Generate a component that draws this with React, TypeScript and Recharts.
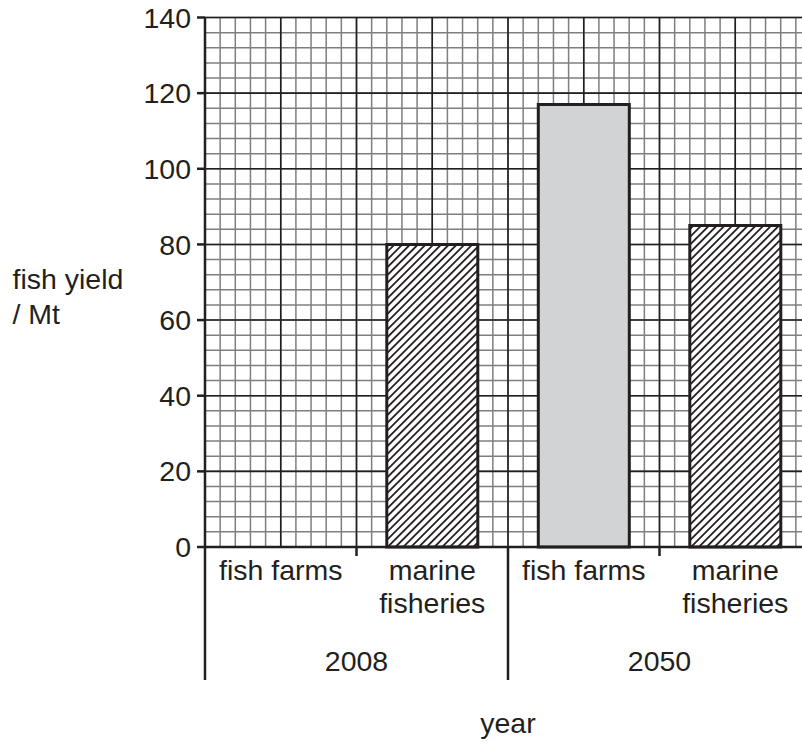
import { BarChart, Bar, XAxis, YAxis, CartesianGrid, Cell, Label } from "recharts"

const categories = ["fish farms", "marine\nfisheries", "fish farms", "marine\nfisheries"]
const years = ["2008", "2008", "2050", "2050"]
const yields: (number | null)[] = [null, 80, 117, 85]
const yTicks = [0, 20, 40, 60, 80, 100, 120, 140]
const Y_MAX = 140
const MINOR_Y_STEP = 4
// grid columns across the plot: 10 small squares per category, heavy line every 5
const COLS = categories.length * 10
const MAJOR_EVERY = 5

const data = categories.map((c, i) => ({ key: `${years[i]}-${i}`, category: c, year: years[i], yield: yields[i] }))

const INK = "#231f20"
const FONT = "'Liberation Sans', Arial, Helvetica, sans-serif"
const FS = 28.5

const CHART_W = 830
const CHART_H = 745
const Y_W = 60
const MARGIN = { top: 17.5, right: 19, left: 145, bottom: 0 }
const PLOT_W = CHART_W - MARGIN.left - Y_W - MARGIN.right
const HALF = PLOT_W / categories.length / 2

const fills = ["none", "url(#hatch)", "#d1d3d4", "url(#hatch)"]

const range = (n: number, step = 1) => Array.from({ length: Math.floor(n / step) + 1 }, (_, i) => i * step)

const minorV = ({ offset }: any) => range(COLS).map((k) => offset.left + (offset.width * k) / COLS)
const majorV = ({ offset }: any) => range(COLS, MAJOR_EVERY).map((k) => offset.left + (offset.width * k) / COLS)
const minorH = ({ offset }: any) => range(Y_MAX, MINOR_Y_STEP).map((v) => offset.top + offset.height * (1 - v / Y_MAX))
const majorH = ({ offset }: any) => yTicks.map((v) => offset.top + offset.height * (1 - v / Y_MAX))

function CategoryTick(props: any) {
  const { x, y, payload } = props
  const i = props.index ?? payload.index
  const lines = String(categories[i]).split("\n")
  const even = i % 2 === 0
  return (
    <g>
      <line x1={x - HALF} x2={x - HALF} y1={y} y2={y + (even ? 133 : 9)} stroke={INK} strokeWidth={2.5} />
      {i === categories.length - 1 && (
        <line x1={x + HALF} x2={x + HALF} y1={y} y2={y + 133} stroke={INK} strokeWidth={2.5} />
      )}
      {lines.map((t, k) => (
        <text key={k} x={x} y={y + 33 + k * 33} textAnchor="middle" fill={INK} fontSize={FS} fontFamily={FONT}>
          {t}
        </text>
      ))}
      {!even && (
        <text x={x - HALF} y={y + 124} textAnchor="middle" fill={INK} fontSize={FS} fontFamily={FONT}>
          {years[i]}
        </text>
      )}
    </g>
  )
}

function YTitle(props: any) {
  const vb = props.viewBox || { y: 0, height: 0 }
  const mid = vb.y + vb.height / 2
  return (
    <g fill={INK} fontSize={FS} fontFamily={FONT}>
      <text x={12.5} y={mid + 7}>fish yield</text>
      <text x={12.5} y={mid + 42}>/ Mt</text>
    </g>
  )
}

function XTitle(props: any) {
  const vb = props.viewBox || { x: 0, y: 0, width: 0 }
  return (
    <text x={vb.x + vb.width / 2} y={vb.y + 186} textAnchor="middle" fill={INK} fontSize={FS} fontFamily={FONT}>
      year
    </text>
  )
}

export default function App() {
  return (
    <div style={{ position: "absolute", left: 0, top: 0, width: 802, height: 745, overflow: "hidden", background: "#fff" }}>
      <BarChart width={CHART_W} height={CHART_H} data={data} margin={MARGIN} barCategoryGap="20%">
        <defs>
          <pattern id="hatch" patternUnits="userSpaceOnUse" width={5.5} height={10} patternTransform="rotate(45)">
            <rect width={5.5} height={10} fill="#fff" />
            <line x1={0.9} y1={0} x2={0.9} y2={10} stroke={INK} strokeWidth={1.8} />
          </pattern>
        </defs>
        <CartesianGrid
          stroke="#7f7f7f"
          strokeWidth={1.5}
          verticalCoordinatesGenerator={minorV}
          horizontalCoordinatesGenerator={minorH}
          syncWithTicks={false}
        />
        <CartesianGrid
          stroke={INK}
          strokeWidth={1.6}
          verticalCoordinatesGenerator={majorV}
          horizontalCoordinatesGenerator={majorH}
          syncWithTicks={false}
        />
        <XAxis
          dataKey="key"
          type="category"
          interval={0}
          height={198}
          tickSize={0}
          tickMargin={0}
          tickLine={false}
          axisLine={{ stroke: INK, strokeWidth: 2.5 }}
          tick={<CategoryTick />}
        >
          <Label content={<XTitle />} />
        </XAxis>
        <YAxis
          type="number"
          domain={[0, Y_MAX]}
          ticks={yTicks}
          width={Y_W}
          tickSize={8}
          tickMargin={6}
          axisLine={{ stroke: INK, strokeWidth: 2.5 }}
          tickLine={{ stroke: INK, strokeWidth: 2.5 }}
          tick={{ fill: INK, fontSize: FS, fontFamily: FONT }}
        >
          <Label content={<YTitle />} />
        </YAxis>
        <Bar dataKey="yield" stroke={INK} strokeWidth={3} isAnimationActive={false}>
          {data.map((d, i) => (
            <Cell key={d.key} fill={fills[i]} />
          ))}
        </Bar>
      </BarChart>
    </div>
  )
}
